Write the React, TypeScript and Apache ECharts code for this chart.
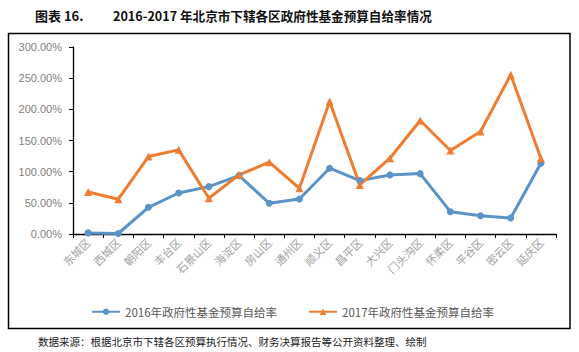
import React, { useEffect, useRef } from "react";
import * as echarts from "echarts";

const categories = ["东城区", "西城区", "朝阳区", "丰台区", "石景山区", "海淀区", "房山区", "通州区", "顺义区", "昌平区", "大兴区", "门头沟区", "怀柔区", "平谷区", "密云区", "延庆区"];
const rate2016 = [1.8, 0.8, 42.8, 65.8, 76.0, 93.7, 49.3, 56.2, 105.6, 85.6, 94.8, 96.9, 35.8, 29.4, 25.7, 113.6];
const rate2017 = [67.5, 55.8, 124.2, 135.0, 57.4, 94.8, 115.2, 73.4, 212.6, 78.7, 121.6, 182.1, 133.9, 164.4, 255.5, 121.6];
const seriesNames = ["2016年政府性基金预算自给率", "2017年政府性基金预算自给率"];
const yTicks = { min: 0, max: 300, interval: 50 };
const titleLabel = "图表 16.";
const titleText = "2016-2017 年北京市下辖各区政府性基金预算自给率情况";
const sourceText = "数据来源：根据北京市下辖各区预算执行情况、财务决算报告等公开资料整理、绘制";

export default function App() {
  const ref = useRef<HTMLDivElement>(null);
  useEffect(() => {
    if (!ref.current) return;
    const chart = echarts.init(ref.current, undefined, { renderer: "svg" });
    const serif = "'Noto Sans CJK SC', serif";
    chart.setOption({
      animation: false,
      backgroundColor: "#ffffff",
      grid: { left: 73, right: 23, top: 47, bottom: 118, containLabel: false },
      xAxis: {
        type: "category",
        data: categories,
        boundaryGap: true,
        axisLine: { lineStyle: { color: "#000", width: 1.3 } },
        axisTick: { show: true, length: 4, alignWithLabel: false, lineStyle: { color: "#000" } },
        axisLabel: { interval: 0, rotate: 45, color: "#a0a0a0", fontSize: 11, margin: 6, fontFamily: serif },
      },
      yAxis: {
        type: "value",
        min: yTicks.min,
        max: yTicks.max,
        interval: yTicks.interval,
        axisLine: { show: true, lineStyle: { color: "#000", width: 1.3 } },
        axisTick: { show: true, length: 4, inside: false, lineStyle: { color: "#000" } },
        splitLine: { show: false },
        axisLabel: {
          color: "#7f7f7f",
          fontSize: 11,
          margin: 11,
          fontFamily: "'Liberation Sans', Arial, sans-serif",
          formatter: (v: number) => v.toFixed(2) + "%",
        },
      },
      legend: {
        data: seriesNames,
        left: 86,
        top: 301,
        itemWidth: 28,
        itemHeight: 8,
        itemGap: 31,
        textStyle: { color: "#595959", fontSize: 11.5, fontFamily: "'Noto Sans CJK SC', sans-serif" },
      },
      series: [
        {
          name: seriesNames[0],
          type: "line",
          data: rate2016,
          symbol: "circle",
          symbolSize: 7,
          lineStyle: { color: "#5b93c9", width: 3 },
          itemStyle: { color: "#5b93c9" },
        },
        {
          name: seriesNames[1],
          type: "line",
          data: rate2017,
          symbol: "triangle",
          symbolSize: 8,
          lineStyle: { color: "#ed7d31", width: 3 },
          itemStyle: { color: "#ed7d31" },
        },
      ],
      graphic: [
        {
          type: "rect",
          shape: { x: 8.5, y: 33.5, width: 561.5, height: 295 },
          style: { fill: "none", stroke: "#000", lineWidth: 1.5 },
          silent: true,
        },
        {
          type: "text",
          x: 35,
          y: 15,
          style: { text: titleLabel, fontSize: 13, fontWeight: "bold", fill: "#111", fontFamily: serif, verticalAlign: "middle" },
        },
        {
          type: "text",
          x: 113,
          y: 15,
          style: { text: titleText, fontSize: 12.6, fontWeight: "bold", fill: "#111", fontFamily: serif, verticalAlign: "middle" },
        },
        {
          type: "text",
          x: 38,
          y: 341,
          style: { text: sourceText, fontSize: 10.5, fill: "#222", fontFamily: serif, verticalAlign: "middle" },
        },
      ],
    });
    return () => chart.dispose();
  }, []);
  return <div ref={ref} style={{ position: "absolute", left: 0, top: 0, width: 579, height: 352 }} />;
}
